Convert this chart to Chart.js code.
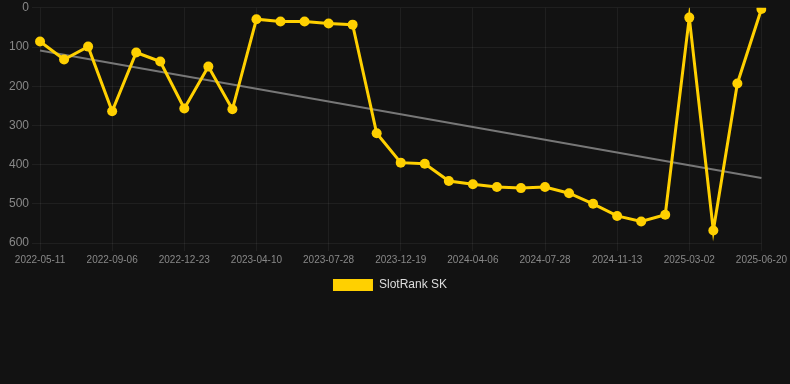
<!DOCTYPE html>
<html>
<head>
<meta charset="utf-8">
<script src="https://cdn.jsdelivr.net/npm/chart.js@4/dist/chart.umd.min.js"></script>
<style>
    html, body { margin: 0; padding: 0; background: #121212; }
    #wrap { width: 790px; height: 384px; position: relative; }
</style>
</head>
<body>
<div id="wrap"><canvas id="rankChart"></canvas></div>
<script>
// Dates (x categories)
const dates = [
    '2022-05-11', '2022-06-19', '2022-07-28', '2022-09-06', '2022-10-12', '2022-11-17',
    '2022-12-23', '2023-01-28', '2023-03-05', '2023-04-10', '2023-05-16', '2023-06-21',
    '2023-07-28', '2023-09-15', '2023-11-01', '2023-12-19', '2024-01-24', '2024-02-29',
    '2024-04-06', '2024-05-13', '2024-06-20', '2024-07-28', '2024-09-02', '2024-10-08',
    '2024-11-13', '2024-12-19', '2025-01-24', '2025-03-02', '2025-04-08', '2025-05-14',
    '2025-06-20'
];

// SlotRank SK rank values
const rankValues = [
    86, 132, 99, 264, 114, 137, 257, 150, 259, 29,
    35, 35, 40, 43, 320, 395, 398, 442, 450, 457,
    460, 457, 473, 500, 531, 545, 528, 25, 568, 193,
    3
];

// trend line ends
const trendStart = 109;
const trendEnd = 434;

const yTicks = [0, 100, 200, 300, 400, 500, 600];

const trendValues = dates.map((d, i) => i === 0 ? trendStart : (i === dates.length - 1 ? trendEnd : null));

const fontFamily = 'Liberation Sans, Arial, sans-serif';
const gridColor = 'rgba(255,255,255,0.06)';

const ctx = document.getElementById('rankChart');
new Chart(ctx, {
    type: 'line',
    data: {
        labels: dates,
        datasets: [{
            label: 'SlotRank SK',
            data: rankValues,
            borderColor: '#ffd000',
            backgroundColor: '#ffd000',
            borderWidth: 3,
            pointRadius: 5,
            pointBackgroundColor: '#ffd000',
            pointBorderWidth: 0,
            tension: 0,
            order: 1
        }, {
            label: 'trend',
            data: trendValues,
            borderColor: '#777777',
            borderWidth: 2,
            pointRadius: 0,
            spanGaps: true,
            order: 2
        }]
    },
    options: {
        responsive: true,
        maintainAspectRatio: false,
        animation: false,
        layout: {
            padding: { left: 6, right: 16, top: 0, bottom: 83 }
        },
        plugins: {
            legend: {
                position: 'bottom',
                labels: {
                    boxWidth: 40,
                    boxHeight: 12,
                    color: '#dddddd',
                    font: { family: fontFamily, size: 12 },
                    filter: item => item.text !== 'trend',
                    generateLabels: chart => Chart.defaults.plugins.legend.labels.generateLabels(chart)
                        .map(l => Object.assign(l, { lineWidth: 0 }))
                }
            },
            tooltip: { enabled: false }
        },
        scales: {
            y: {
                reverse: true,
                min: 0,
                max: 600,
                afterBuildTicks: axis => { axis.ticks = yTicks.map(v => ({ value: v })); },
                ticks: {
                    color: '#888888',
                    font: { family: fontFamily, size: 12, lineHeight: 0.8 }
                },
                grid: { color: gridColor },
                border: { display: false }
            },
            x: {
                ticks: {
                    autoSkip: false,
                    maxRotation: 0,
                    color: '#888888',
                    font: { family: fontFamily, size: 10 },
                    callback: function(value, index) {
                        return index % 3 === 0 ? this.getLabelForValue(value) : null;
                    }
                },
                grid: { color: gridColor },
                border: { display: false }
            }
        }
    }
});
</script>
</body>
</html>
